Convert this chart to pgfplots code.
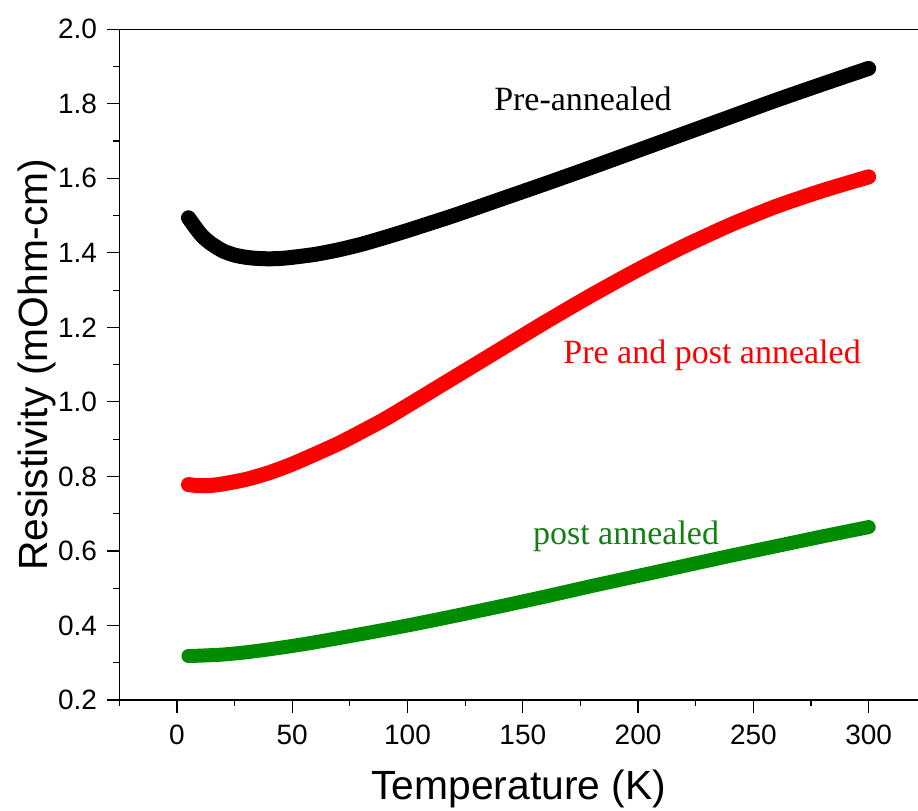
\documentclass[border=0pt]{standalone}
\usepackage{fontspec}
\setmainfont{Liberation Sans}
\newfontfamily\timesfont{Liberation Serif}
\usepackage{pgfplots}
\pgfplotsset{compat=1.18}
\definecolor{curvegreen}{RGB}{0,140,0}
\definecolor{labelgreen}{RGB}{20,125,20}
\begin{document}
\begin{tikzpicture}
\begin{axis}[
  scale only axis, width=399.35pt, height=335.35pt,
  xmin=-25, xmax=321.4, ymin=0.2, ymax=2.0,
  axis lines*=left, axis line style={-, line width=0.6pt},
  tick align=outside, major tick length=6.35pt, minor tick length=3pt,
  tick style={line width=0.6pt, black},
  xtick={0,50,100,150,200,250,300},
  minor xtick={-25,25,75,125,175,225,275},
  ytick={0.2,0.4,0.6,0.8,1.0,1.2,1.4,1.6,1.8,2.0},
  minor ytick={0.3,0.5,0.7,0.9,1.1,1.3,1.5,1.7,1.9},
  yticklabel style={/pgf/number format/.cd, fixed, fixed zerofill, precision=1},
  /pgf/number format/assume math mode=true,
  tick label style={font=\fontsize{14}{16}\selectfont, inner sep=0pt},
  xticklabel shift=6.0pt, yticklabel shift=4.6pt,
  xlabel={Temperature (K)},
  ylabel={Resistivity (mOhm-cm)},
  xlabel style={font=\fontsize{20.4}{24}\selectfont, at={(axis description cs:0.5,-0.1491)}, anchor=base, inner sep=0pt},
  ylabel style={font=\fontsize{20.4}{24}\selectfont, at={(axis description cs:-0.1268,0.5)}, anchor=north, inner sep=0pt},
  clip=false,
]
% pre-annealed sample
\addplot[black, line width=7.5pt, line cap=round, smooth, tension=0.4] coordinates {
  (5,1.494) (8,1.468) (10,1.452) (12,1.439) (15,1.424) (20,1.405) (25,1.394)
  (30,1.388) (35,1.385) (40,1.384) (45,1.385) (50,1.388) (60,1.396) (70,1.408)
  (80,1.423) (90,1.441) (100,1.460) (120,1.500) (140,1.543) (160,1.586)
  (180,1.630) (200,1.675) (220,1.720) (240,1.765) (260,1.810) (280,1.853) (300,1.895)
};
% pre and post annealed sample
\addplot[red, line width=7.5pt, line cap=round, smooth, tension=0.4] coordinates {
  (5,0.778) (10,0.775) (15,0.776) (20,0.780) (30,0.792) (40,0.810) (50,0.833)
  (60,0.860) (70,0.888) (80,0.920) (90,0.953) (100,0.990) (120,1.065)
  (140,1.140) (160,1.215) (180,1.287) (200,1.355) (220,1.418) (240,1.475)
  (260,1.525) (280,1.567) (300,1.604)
};
% post annealed sample
\addplot[curvegreen, line width=7pt, line cap=round, smooth, tension=0.4] coordinates {
  (5,0.318) (10,0.319) (20,0.322) (30,0.328) (40,0.336) (50,0.345) (60,0.355)
  (80,0.377) (100,0.400) (120,0.425) (140,0.451) (160,0.478) (180,0.506)
  (200,0.533) (220,0.560) (240,0.587) (260,0.613) (280,0.639) (300,0.664)
};
\node[font=\timesfont\fontsize{17}{20}\selectfont, anchor=base] at (axis cs:176.1,1.783) {Pre-annealed};
\node[font=\timesfont\fontsize{17}{20}\selectfont, text=red, anchor=base] at (axis cs:232.1,1.104) {Pre and post annealed};
\node[font=\timesfont\fontsize{17}{20}\selectfont, text=labelgreen, anchor=base] at (axis cs:194.8,0.616) {post annealed};
\draw[line width=0.6pt] (rel axis cs:0,1) -- (rel axis cs:1,1);
\coordinate (SW) at (rel axis cs:0,0);
\coordinate (NE) at (rel axis cs:1,1);
\end{axis}
\pgfresetboundingbox
\path ([xshift=-59.65pt,yshift=-55.5pt]SW) rectangle ([yshift=14.65pt]NE);
\end{tikzpicture}
\end{document}
